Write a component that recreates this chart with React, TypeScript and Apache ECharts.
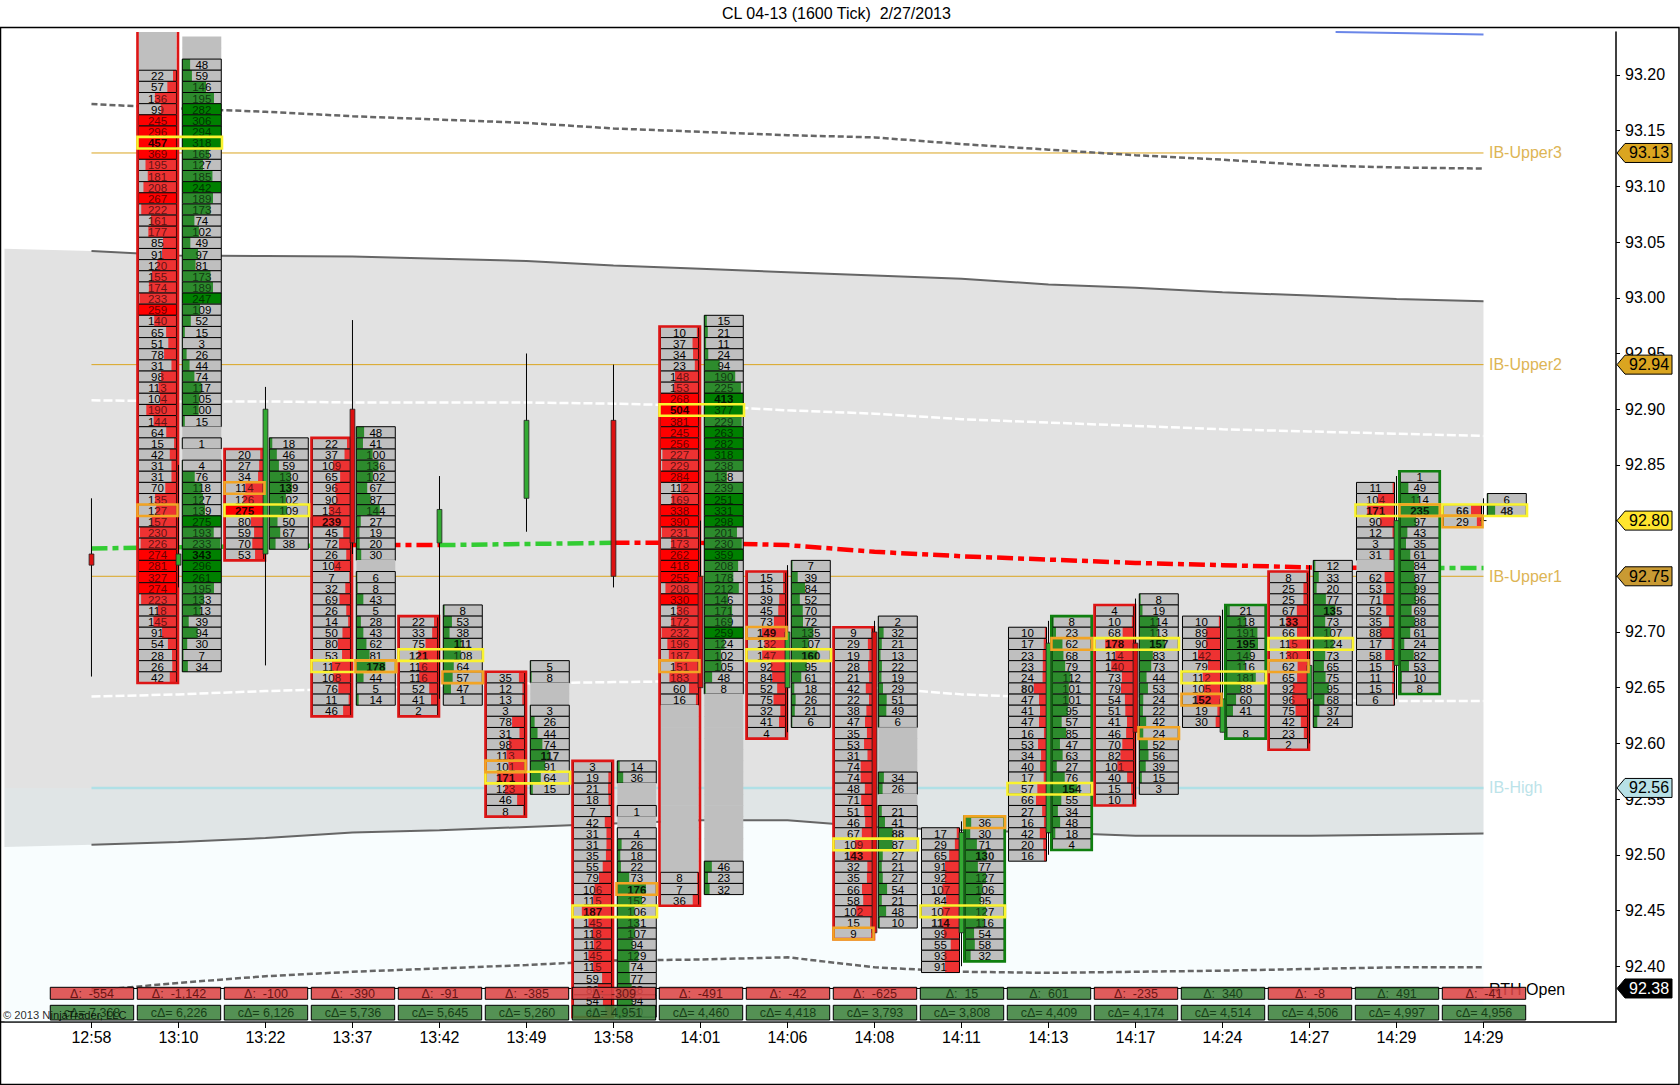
import React, { useEffect, useRef } from "react";
import * as echarts from "echarts";

const times = ["12:58","13:10","13:22","13:37","13:42","13:49","13:58","14:01","14:06","14:08","14:11","14:13","14:17","14:24","14:27","14:29","14:29"];
const yTicks = [92.4,92.45,92.5,92.55,92.6,92.65,92.7,92.75,92.8,92.85,92.9,92.95,93.0,93.05,93.1,93.15,93.2];
const deltas = [-554,-1142,-100,-390,-91,-385,-309,-491,-42,-625,15,601,-235,340,-8,491,-41];
const cumDeltas = [7368,6226,6126,5736,5645,5260,4951,4460,4418,3793,3808,4409,4174,4514,4506,4997,4956];

const opens =  [92.77,92.76,92.77,92.90,92.78,92.82,92.89,92.75,92.65,92.70,92.43,92.52,92.69,92.61,92.64,92.67,92.80];
const closes = [92.76,92.77,92.90,92.78,92.81,92.89,92.75,92.65,92.70,92.43,92.52,92.69,92.61,92.64,92.67,92.80,92.80];
const highs =  [92.82,92.85,92.92,92.98,92.84,92.95,92.94,92.80,92.76,92.71,92.53,92.71,92.73,92.72,92.76,92.84,92.82];
const lows =   [92.66,92.74,92.67,92.77,92.64,92.79,92.74,92.65,92.61,92.43,92.40,92.50,92.55,92.61,92.60,92.64,92.80];

const bidTops = [null,93.24,92.86,92.87,92.71,92.66,92.58,92.97,92.75,92.70,92.52,92.70,92.72,92.71,92.75,92.83,92.81];
const askTops = [null,93.23,92.87,92.88,92.72,92.67,92.58,92.98,92.76,92.71,92.53,92.71,92.73,92.72,92.76,92.84,92.82];

const bid01 = [null,null,null,null,22,57,136,99,245,296,457,369,195,181,208,267,222,161,177,85,91,120,155,174,233,259,140,65,51,78,31,98,113,104,190,144,64,15,42,31,31,70,135,127,157,230,226,274,281,327,274,223,118,145,91,54,28,26,42];
const ask01 = [null,null,48,59,146,195,282,306,294,318,165,127,185,242,189,173,74,102,49,97,81,173,189,247,109,52,15,3,26,44,74,117,105,100,15,null,1,null,4,76,118,127,139,275,193,233,343,296,261,195,133,113,39,94,30,7,34];
const bid02 = [20,27,34,114,126,275,80,59,70,53];
const ask02 = [18,46,59,130,139,102,109,50,67,38];
const bid03 = [22,37,109,65,96,90,134,239,45,72,26,104,7,32,69,26,14,50,80,53,117,108,76,11,46];
const ask03 = [48,41,100,136,102,67,87,144,27,19,20,30,null,6,8,43,5,28,43,62,81,178,44,5,14];
const bid04 = [22,33,75,121,116,116,52,41,2];
const ask04 = [8,53,38,111,108,64,57,47,1];
const bid05 = [35,12,13,3,78,31,98,113,101,171,123,46,8];
const ask05 = [5,8,null,null,3,26,44,74,117,91,64,15];
const bid06 = [3,19,21,18,7,42,31,31,35,55,79,106,115,187,145,118,112,145,115,59,86,54,40];
const ask06 = [14,36,null,null,1,null,4,26,18,22,73,176,152,106,131,107,94,129,74,77,88,94,60];
const bid07 = [10,37,34,23,148,153,268,504,381,245,256,227,229,284,112,169,338,390,231,173,262,418,255,208,330,136,172,232,196,187,151,183,60,16,null,null,null,null,null,null,null,null,null,null,null,null,null,null,null,8,7,36];
const ask07 = [15,21,11,24,94,190,225,413,377,229,263,282,318,238,138,239,251,331,298,201,230,359,208,178,212,146,171,169,259,124,102,105,48,8,null,null,null,null,null,null,null,null,null,null,null,null,null,null,null,46,23,32];
const bid08 = [15,15,39,45,73,149,132,147,92,84,52,75,32,41,4];
const ask08 = [7,39,84,52,70,72,135,107,160,95,61,18,26,21,6];
const bid09 = [9,29,19,28,21,42,22,38,47,35,53,31,74,74,48,71,51,46,67,109,143,32,35,66,58,102,15,9];
const ask09 = [2,32,21,13,22,19,29,51,49,6,null,null,null,null,34,26,null,21,41,88,87,27,21,27,54,21,48,10];
const bid10 = [17,29,65,91,92,107,84,107,114,99,55,93,91];
const ask10 = [36,30,71,130,77,127,106,95,127,116,54,58,32];
const bid11 = [10,17,23,23,24,80,47,41,47,16,53,34,40,17,57,66,27,16,42,20,16];
const ask11 = [8,23,62,68,79,112,101,101,95,57,85,47,63,27,76,154,55,34,48,18,4];
const bid12 = [4,10,68,178,114,140,73,79,54,51,41,46,70,82,101,40,15,10];
const ask12 = [8,19,114,113,157,83,73,44,53,24,22,42,24,52,56,39,15,3];
const bid13 = [10,89,90,142,79,112,105,152,19,30];
const ask13 = [21,118,191,195,149,116,181,88,60,41,0,8];
const bid14 = [8,25,25,67,133,66,115,130,62,65,92,96,75,42,23,2];
const ask14 = [12,33,20,77,135,73,107,124,73,65,75,95,68,37,24];
const bid15 = [11,104,171,90,12,3,31,null,62,53,71,52,35,88,17,58,15,11,15,6];
const ask15 = [1,49,114,235,97,43,35,61,84,87,99,96,69,88,61,24,82,53,10,8];
const bid16 = [66,29];
const ask16 = [6,48];

const bidColumns = [[],bid01,bid02,bid03,bid04,bid05,bid06,bid07,bid08,bid09,bid10,bid11,bid12,bid13,bid14,bid15,bid16];
const askColumns = [[],ask01,ask02,ask03,ask04,ask05,ask06,ask07,ask08,ask09,ask10,ask11,ask12,ask13,ask14,ask15,ask16];

const pocPrices =   [null,93.14,92.81,92.67,92.68,92.57,92.45,92.90,92.68,92.51,92.45,92.56,92.69,92.66,92.69,92.81,92.81];
const orangeBid =   [null,92.81,92.83,null,null,92.58,null,92.67,92.70,92.43,null,null,null,92.64,92.67,null,92.80];
const orangeAsk =   [null,null,null,92.67,92.66,null,92.47,null,null,null,92.53,92.69,92.61,null,null,92.81,null];

const bandIndex = [-1,0,1,2,3,4,5,6,7,8,9,10,11,12,13,14,15,16];
const bandUpper = [93.044,93.042,93.038,93.0375,93.037,93.035,93.033,93.029,93.026,93.023,93.020,93.017,93.012,93.009,93.005,93.002,92.999,92.997];
const bandLower = [92.507,92.509,92.5115,92.515,92.520,92.522,92.525,92.528,92.531,92.531,92.525,92.522,92.520,92.517,92.517,92.517,92.518,92.519];
const dashUpper = [93.174,93.170,93.167,93.163,93.160,93.157,93.152,93.149,93.146,93.144,93.138,93.133,93.128,93.124,93.119,93.117,93.116];
const whiteUpper = [92.908,92.907,92.907,92.906,92.906,92.906,92.905,92.903,92.899,92.896,92.891,92.888,92.885,92.882,92.880,92.878,92.876];
const whiteLower = [92.642,92.644,92.647,92.649,92.652,92.654,92.655,92.656,92.653,92.650,92.644,92.641,92.640,92.640,92.639,92.638,92.638];
const dashLower = [92.378,92.385,92.391,92.395,92.398,92.401,92.405,92.406,92.408,92.399,92.395,92.394,92.395,92.396,92.3975,92.399,92.399];
const vwap = [92.775,92.776,92.777,92.778,92.778,92.779,92.780,92.780,92.778,92.772,92.768,92.765,92.762,92.760,92.758,92.7575,92.7575];
const vwapGreenRuns = [[0,3],[4,6],[15,16]];
const vwapRedRuns = [[3,4],[6,15]];
const blueLine = [[14.3,93.2386],[15,93.2376],[16,93.2364]];

const ibNames = ["IB-Upper3","IB-Upper2","IB-Upper1","IB-High","RTH Open"];
const ibPrices = [93.13,92.94,92.75,92.56,92.38];
const ibLineColors = ["#DAA520","#DAA520","#DAA520","#B0E0E6","#000000"];
const ibLineWidths = [1,1,1,2.5,1];
const ibTextColors = ["#DDB555","#DDB555","#DDB555","#BCE3E9","#000000"];
const tagPrices = [93.13,92.94,92.80,92.75,92.56,92.38];
const tagFills = ["#DAA520","#DAA520","#FFE52E","#C99A33","#B7E0E6","#000000"];
const tagTexts = ["#000000","#000000","#000000","#000000","#000000","#FFFFFF"];

const X_MIN = -1.04, X_MAX = 17.523, Y_MIN = 92.3499, Y_MAX = 93.2386;
const ROW = 11.14, ROW_OFF = 0.8, FONT = '"Liberation Sans", Arial, sans-serif';
const FULL = 240;

const rect = (x, y, w, h, style) => ({ type: "rect", shape: { x, y, width: w, height: h }, style, silent: true });
const txt = (x, y, text, fill, font, align = "center") => ({ type: "text", x, y, silent: true, style: { text, fill, font, align, verticalAlign: "middle" } });

function column(api, i, values, top, side) {
  const out = [];
  if (!values.length) return out;
  const cx = api.coord([i, 92.8])[0];
  const x0 = side === "bid" ? cx - 40 : cx + 3.8;
  const w = side === "bid" ? 38 : 39;
  const max = Math.max(...values.filter((v) => v != null));
  values.forEach((v, k) => {
    const price = top - k * 0.01;
    const cy = api.coord([i, price])[1] + ROW_OFF;
    const y = cy - ROW / 2;
    out.push(rect(x0, y - 0.3, w, ROW + 0.6, { fill: "#BFBFBF" }));
    if (v == null) return;
    const ratio = Math.min(1, v / FULL);
    const fw = w * ratio;
    const strong = v >= FULL;
    const color = side === "bid" ? (strong ? "#FF0000" : "#EE3232") : (strong ? "#008000" : "#2E8B2E");
    const fx = side === "bid" ? x0 + w - fw : x0;
    if (fw > 0) out.push(rect(fx, y, fw, ROW, { fill: color }));
    const bold = v === max;
    if (v > 0 && !bold) out.push(txt(x0 + w / 2, cy + 0.5, String(v), "#000", `11.5px ${FONT}`));
    if (fw > 0) out.push(rect(fx, y, fw, ROW, { fill: color, opacity: 0.4 }));
    out.push(rect(x0, y, w, ROW, { fill: "none", stroke: "#000", lineWidth: 1 }));
    if (v > 0 && bold) out.push(txt(x0 + w / 2, cy + 0.5, String(v), "rgba(0,0,0,0.85)", `bold 11.5px ${FONT}`));
  });
  return out;
}

function renderCells(params, api) {
  const i = params.dataIndex;
  const bid = bidColumns[i], ask = askColumns[i];
  const children = [];
  if (bid.length) {
    children.push(...column(api, i, bid, bidTops[i], "bid"));
    children.push(...column(api, i, ask, askTops[i], "ask"));
    const cx = api.coord([i, 92.8])[0];
    const col = deltas[i] < 0 ? bid : ask;
    const top = deltas[i] < 0 ? bidTops[i] : askTops[i];
    if (i !== 16) {
      const y0 = api.coord([i, top])[1] + ROW_OFF - ROW / 2;
      const h = col.length * ROW;
      const x = deltas[i] < 0 ? cx - 41 : cx + 2.8;
      children.push(rect(x, y0, 40.5, h, { fill: "none", stroke: deltas[i] < 0 ? "#DD1515" : "#0F7F0F", lineWidth: 2.6 }));
    }
  }
  return { type: "group", children };
}

function renderCandle(params, api) {
  const i = params.dataIndex;
  const [cx] = api.coord([i, 92.8]);
  const yO = api.coord([i, opens[i]])[1], yC = api.coord([i, closes[i]])[1];
  const yH = api.coord([i, highs[i]])[1], yL = api.coord([i, lows[i]])[1];
  const up = closes[i] >= opens[i];
  const top = Math.min(yO, yC);
  const h = Math.max(1, Math.abs(yO - yC));
  return {
    type: "group",
    children: [
      { type: "line", silent: true, shape: { x1: cx, y1: yH, x2: cx, y2: yL }, style: { stroke: "#000", lineWidth: 1 } },
      i === 16
        ? { type: "line", silent: true, shape: { x1: cx - 3, y1: yC, x2: cx + 3, y2: yC }, style: { stroke: "#000", lineWidth: 1 } }
        : rect(cx - 2.4, top, 4.8, h, { fill: up ? "#33AA33" : "#DD1111", stroke: "#222", lineWidth: 0.8 }),
    ],
  };
}

function renderBoxes(params, api) {
  const i = params.dataIndex;
  const children = [];
  const [cx] = api.coord([i, 92.8]);
  const rowBox = (price, x, w, color) => {
    const cy = api.coord([i, price])[1] + ROW_OFF;
    children.push(rect(x, cy - 5.8, w, 11.6, { fill: "none", stroke: color, lineWidth: 2.6 }));
  };
  if (pocPrices[i] != null) rowBox(pocPrices[i], cx - 41, 84.5, "#FAF32E");
  if (orangeBid[i] != null) rowBox(orangeBid[i], cx - 41, 40, "#F2A424");
  if (orangeAsk[i] != null) rowBox(orangeAsk[i], cx + 3, 40.5, "#F2A424");
  return { type: "group", children };
}

const fmt = (v) => v.toLocaleString("en-US");

function renderDelta(params, api) {
  const i = params.dataIndex;
  const [cx, yb] = api.coord([i, Y_MIN]);
  const red = "rgba(220,70,70,0.88)", green = "rgba(60,130,60,0.88)";
  const d = deltas[i];
  return {
    type: "group",
    children: [
      rect(cx - 41.2, yb - 34.7, 83.4, 12, { fill: d < 0 ? red : green, stroke: "#000", lineWidth: 1 }),
      txt(cx + 0.5, yb - 28.2, `Δ:  ${fmt(d)}`, d < 0 ? "#6B1414" : "#173F17", `12.5px ${FONT}`),
      rect(cx - 41.2, yb - 16.7, 83.4, 14.7, { fill: green, stroke: "#000", lineWidth: 1 }),
      txt(cx + 0.5, yb - 9.2, `cΔ= ${fmt(cumDeltas[i])}`, "#173F17", `12.5px ${FONT}`),
    ],
  };
}

function renderBand(params, api) {
  const top = bandIndex.map((x, k) => api.coord([x, bandUpper[k]]));
  const bottom = bandIndex.map((x, k) => api.coord([x, bandLower[k]])).reverse();
  return { type: "polygon", silent: true, shape: { points: [...top, ...bottom] }, style: { fill: "#E2E2E2" } };
}

function renderTint(params, api) {
  const a = api.coord([-1, 92.56]), b = api.coord([16, Y_MIN]);
  return rect(a[0], a[1], b[0] - a[0], b[1] - a[1], { fill: "rgba(220,245,250,0.2)" });
}

function renderIbLabel(params, api) {
  const i = params.dataIndex;
  const [x, y] = api.coord([16, ibPrices[i]]);
  return txt(x + 5.5, y + (i === 4 ? 1 : 0), ibNames[i], ibTextColors[i], `16px ${FONT}`, "left");
}

function renderTag(params, api) {
  const i = params.dataIndex;
  const [x0, y] = api.coord([X_MAX, tagPrices[i]]);
  const l = x0 + 1;
  const points = [[l, y], [l + 8, y - 9.5], [l + 55, y - 9.5], [l + 55, y + 9.5], [l + 8, y + 9.5]];
  return {
    type: "group",
    children: [
      { type: "polygon", silent: true, shape: { points }, style: { fill: tagFills[i], stroke: "#000", lineWidth: 1 } },
      txt(l + 32, y, tagPrices[i].toFixed(2), tagTexts[i], `16px ${FONT}`),
    ],
  };
}

const lineSeries = (data, color, width, type) => ({
  type: "line",
  z: 2,
  data,
  showSymbol: false,
  silent: true,
  lineStyle: { color, width, type, cap: "butt" },
});

const withIdx = (arr) => arr.map((v, i) => [i, v]);
const runData = (runs) => {
  const out = [];
  runs.forEach(([a, b]) => {
    for (let i = a; i <= b; i++) out.push([i, vwap[i]]);
    out.push([b, null]);
  });
  return out;
};

const custom = (data, renderItem, z, clip = true) => ({ type: "custom", z, data, renderItem, clip, silent: true });

export default function App() {
  const ref = useRef(null);
  useEffect(() => {
    document.body.style.margin = "0";
    const chart = echarts.init(ref.current, null, { renderer: "svg" });
    const idx = times.map((_, i) => [i, 92.8]);
    chart.setOption({
      animation: false,
      backgroundColor: "#fff",
      title: {
        text: "CL 04-13 (1600 Tick)  2/27/2013",
        left: 717,
        top: 0,
        textStyle: { fontFamily: "Liberation Sans", fontSize: 16, fontWeight: "normal", color: "#000" },
      },
      grid: { left: 1, right: 64, top: 32, bottom: 63 },
      xAxis: {
        type: "value",
        min: X_MIN,
        max: X_MAX,
        splitLine: { show: false },
        axisLine: { onZero: false, lineStyle: { color: "#000", width: 1.5 } },
        axisTick: { length: 6, lineStyle: { color: "#000" }, customValues: times.map((_, i) => i) },
        axisLabel: {
          customValues: times.map((_, i) => i),
          formatter: (v) => times[Math.round(v)],
          margin: 7,
          color: "#000",
          fontFamily: "Liberation Sans",
          fontSize: 16,
        },
      },
      yAxis: {
        type: "value",
        position: "right",
        min: Y_MIN,
        max: Y_MAX,
        splitLine: { show: false },
        axisLine: { onZero: false, show: true, lineStyle: { color: "#000", width: 1.5 } },
        axisTick: { show: true, length: 4, lineStyle: { color: "#000" }, customValues: yTicks },
        axisLabel: {
          customValues: yTicks,
          formatter: (v) => v.toFixed(2),
          margin: 9,
          color: "#000",
          fontFamily: "Liberation Sans",
          fontSize: 16,
        },
      },
      graphic: [
        { type: "rect", silent: true, z: -1, shape: { x: 0.5, y: 27.5, width: 1678.5, height: 1057 }, style: { fill: "none", stroke: "#000", lineWidth: 1.5 } },
        { type: "text", silent: true, z: 100, x: 3, y: 1015, style: { text: "© 2013 NinjaTrader, LLC", fill: "rgba(0,0,0,0.85)", font: `11.2px ${FONT}`, verticalAlign: "middle" } },
      ],
      series: [
        custom([[0, 92.8]], renderBand, 1),
        custom([[0, 92.8]], renderTint, 1),
        ...ibPrices.map((p, i) => lineSeries([[0, p], [16, p]], ibLineColors[i], ibLineWidths[i], "solid")),
        lineSeries(blueLine, "#6A86E8", 2, "solid"),
        lineSeries(bandUpper.slice(1).map((v, i) => [i, v]), "#666", 2, "solid"),
        lineSeries(bandLower.slice(1).map((v, i) => [i, v]), "#666", 2, "solid"),
        lineSeries(withIdx(dashUpper), "#666", 2.5, [6, 3]),
        lineSeries(withIdx(dashLower), "#666", 2.5, [6, 3]),
        lineSeries(withIdx(whiteUpper), "#FFFFFF", 2.5, [9, 3]),
        lineSeries(withIdx(whiteLower), "#FFFFFF", 2.5, [9, 3]),
        lineSeries(runData(vwapGreenRuns), "#33CC33", 4.5, [16, 5, 6, 5]),
        lineSeries(runData(vwapRedRuns), "#FF0000", 4.5, [16, 5, 6, 5]),
        custom(idx, renderCells, 5),
        custom(idx, renderCandle, 6),
        custom(idx, renderBoxes, 7),
        custom(ibPrices.map((p, i) => [i, p]), renderIbLabel, 8, false),
        custom(idx, renderDelta, 9),
        custom(tagPrices.map((p, i) => [i, p]), renderTag, 10, false),
      ],
    });
    return () => chart.dispose();
  }, []);
  return <div ref={ref} style={{ width: 1680, height: 1085, position: "absolute", left: 0, top: 0 }} />;
}
